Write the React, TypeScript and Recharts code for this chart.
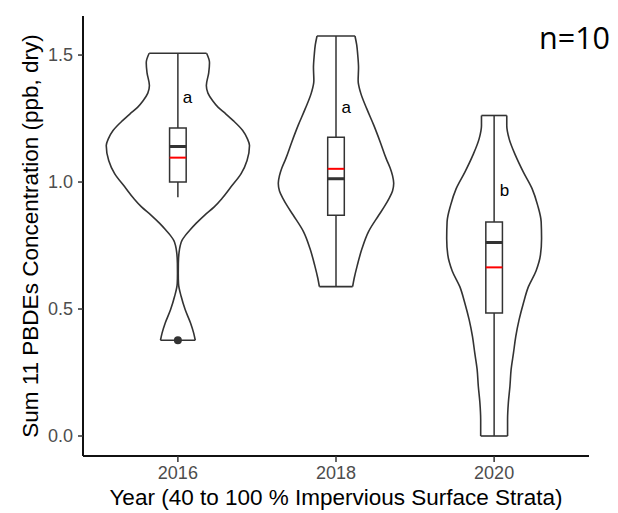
import React from 'react';
import {
  ScatterChart,
  Scatter,
  XAxis,
  YAxis,
  ReferenceArea,
  ReferenceLine,
  ReferenceDot,
  Label,
} from 'recharts';

// ---------- data ----------
const years = [2016, 2018, 2020];

// violin outlines: [value, half-width in years], from bottom to top
const violin2016: [number, number][] = [
  [0.377, 0.22], [0.405, 0.2], [0.445, 0.16], [0.497, 0.093], [0.549, 0.042],
  [0.6, 0.008], [0.64, 0.005], [0.68, 0.006], [0.72, 0.014], [0.75, 0.03],
  [0.77, 0.052], [0.79, 0.095], [0.81, 0.15], [0.837, 0.23], [0.87, 0.34],
  [0.902, 0.46], [0.936, 0.56], [0.98, 0.67], [1.033, 0.8], [1.085, 0.875],
  [1.144, 0.906], [1.17, 0.88], [1.203, 0.82], [1.242, 0.7], [1.27, 0.6],
  [1.294, 0.51], [1.32, 0.44], [1.35, 0.38], [1.38, 0.36], [1.43, 0.39],
  [1.47, 0.4], [1.507, 0.363],
];
const violin2018: [number, number][] = [
  [0.588, 0.21], [0.621, 0.23], [0.673, 0.27], [0.739, 0.33], [0.804, 0.41],
  [0.869, 0.54], [0.905, 0.615], [0.935, 0.67], [0.965, 0.715], [0.995, 0.73],
  [1.025, 0.715], [1.055, 0.685], [1.092, 0.635], [1.157, 0.56], [1.222, 0.48],
  [1.288, 0.39], [1.353, 0.31], [1.4, 0.28], [1.45, 0.285], [1.5, 0.275],
  [1.54, 0.262], [1.575, 0.24],
];
const violin2020: [number, number][] = [
  [0.0, 0.17], [0.065, 0.17], [0.131, 0.18], [0.196, 0.2], [0.262, 0.215],
  [0.327, 0.245], [0.392, 0.274], [0.458, 0.316], [0.523, 0.37], [0.588, 0.434],
  [0.65, 0.53], [0.713, 0.586], [0.778, 0.6], [0.843, 0.595], [0.909, 0.55],
  [0.974, 0.48], [1.039, 0.37], [1.105, 0.27], [1.17, 0.19], [1.222, 0.16],
  [1.262, 0.16],
];
const violins = [violin2016, violin2018, violin2020];

const q1Values = [1.0, 0.869, 0.484];
const medianValues = [1.14, 1.013, 0.762];
const q3Values = [1.213, 1.176, 0.843];
const meanValues = [1.096, 1.052, 0.664];
const whiskerLowValues = [0.94, 0.588, 0.0];
const whiskerHighValues = [1.507, 1.575, 1.262];
const outlierPoints = [{ x: 2016, y: 0.377 }];

const groupLetters = ['a', 'a', 'b'];
const letterX = [2016.12, 2018.13, 2020.13];
const letterY = [1.312, 1.272, 0.945];

const xTicks = [2016, 2018, 2020];
const yTicks = [0, 0.5, 1.0, 1.5];

// ---------- style ----------
const FONT = "'Liberation Sans', Arial, sans-serif";
const INK = '#333333';
const BOX_HALF = 0.105;

export default function App() {
  const sides: { key: string; data: { x: number; y: number }[] }[] = [];
  violins.forEach((prof, i) => {
    const yr = years[i];
    sides.push({ key: `r${i}`, data: prof.map(([v, w]) => ({ x: yr + w, y: v })) });
    sides.push({ key: `l${i}`, data: prof.map(([v, w]) => ({ x: yr - w, y: v })) });
  });

  const letterData = groupLetters.map((t, i) => ({ x: letterX[i], y: letterY[i], label: t }));

  return (
    <div style={{ position: 'absolute', left: 0, top: 0, width: 618, height: 513, background: '#fff' }}>
      <ScatterChart width={618} height={513} margin={{ top: 16, right: 29, bottom: 0, left: 0 }}>
        <XAxis
          type="number"
          dataKey="x"
          domain={[2014.8, 2021.2]}
          allowDataOverflow
          ticks={xTicks}
          interval={0}
          tickSize={6}
          tickMargin={4}
          height={57}
          axisLine={{ stroke: '#111', strokeWidth: 2 }}
          tickLine={{ stroke: INK, strokeWidth: 1.5 }}
          tick={{ fill: '#4d4d4d', fontSize: 18, fontFamily: FONT }}
        >
          <Label
            content={(props: any) => {
              const vb = props.viewBox || { x: 83, y: 456, width: 506, height: 57 };
              return (
                <text
                  x={vb.x + vb.width / 2}
                  y={vb.y + 49}
                  textAnchor="middle"
                  fontSize={22.5}
                  fontFamily={FONT}
                  fill="#000"
                >
                  Year (40 to 100 % Impervious Surface Strata)
                </text>
              );
            }}
          />
        </XAxis>
        <YAxis
          type="number"
          dataKey="y"
          domain={[-0.07875, 1.65375]}
          allowDataOverflow
          ticks={yTicks}
          interval={0}
          width={83}
          tickSize={5}
          tickMargin={5}
          tickFormatter={(v: number) => v.toFixed(1)}
          axisLine={{ stroke: '#111', strokeWidth: 2 }}
          tickLine={{ stroke: INK, strokeWidth: 1.5 }}
          tick={{ fill: '#4d4d4d', fontSize: 18, fontFamily: FONT }}
        >
          <Label
            content={(props: any) => {
              const vb = props.viewBox || { x: 0, y: 16, width: 83, height: 440 };
              const cx = vb.x + 38;
              const cy = vb.y + vb.height / 2;
              return (
                <text
                  x={cx}
                  y={cy}
                  transform={`rotate(-90, ${cx}, ${cy})`}
                  textAnchor="middle"
                  fontSize={22.5}
                  fontFamily={FONT}
                  fill="#000"
                >
                  Sum 11 PBDEs Concentration (ppb, dry)
                </text>
              );
            }}
          />
        </YAxis>

        {/* violin sides */}
        {sides.map((s) => (
          <Scatter
            key={s.key}
            data={s.data}
            fill="none"
            line={{ stroke: INK, strokeWidth: 1.6 }}
            lineJointType="monotoneY"
            shape={() => <g />}
            isAnimationActive={false}
            legendType="none"
          />
        ))}

        {/* violin caps (trimmed ends) */}
        {violins.map((prof, i) => {
          const [v0, w0] = prof[0];
          const [v1, w1] = prof[prof.length - 1];
          const yr = years[i];
          return (
            <React.Fragment key={`cap${i}`}>
              <ReferenceLine
                segment={[{ x: yr - w0, y: v0 }, { x: yr + w0, y: v0 }]}
                stroke={INK}
                strokeWidth={1.6}
                ifOverflow="visible"
              />
              <ReferenceLine
                segment={[{ x: yr - w1, y: v1 }, { x: yr + w1, y: v1 }]}
                stroke={INK}
                strokeWidth={1.6}
                ifOverflow="visible"
              />
            </React.Fragment>
          );
        })}

        {/* whiskers */}
        {years.map((yr, i) => (
          <React.Fragment key={`wh${i}`}>
            <ReferenceLine
              segment={[{ x: yr, y: q3Values[i] }, { x: yr, y: whiskerHighValues[i] }]}
              stroke={INK}
              strokeWidth={1.5}
              ifOverflow="visible"
            />
            <ReferenceLine
              segment={[{ x: yr, y: whiskerLowValues[i] }, { x: yr, y: q1Values[i] }]}
              stroke={INK}
              strokeWidth={1.5}
              ifOverflow="visible"
            />
          </React.Fragment>
        ))}

        {/* boxes */}
        {years.map((yr, i) => (
          <ReferenceArea
            key={`box${i}`}
            x1={yr - BOX_HALF}
            x2={yr + BOX_HALF}
            y1={q1Values[i]}
            y2={q3Values[i]}
            fill="#ffffff"
            fillOpacity={1}
            stroke={INK}
            strokeWidth={1.5}
            ifOverflow="visible"
          />
        ))}

        {/* medians */}
        {years.map((yr, i) => (
          <ReferenceLine
            key={`med${i}`}
            segment={[{ x: yr - BOX_HALF, y: medianValues[i] }, { x: yr + BOX_HALF, y: medianValues[i] }]}
            stroke={INK}
            strokeWidth={3}
            ifOverflow="visible"
          />
        ))}

        {/* means */}
        {years.map((yr, i) => (
          <ReferenceLine
            key={`mean${i}`}
            segment={[{ x: yr - BOX_HALF, y: meanValues[i] }, { x: yr + BOX_HALF, y: meanValues[i] }]}
            stroke="#ff0000"
            strokeWidth={2}
            ifOverflow="visible"
          />
        ))}

        {/* outliers */}
        {outlierPoints.map((p, i) => (
          <ReferenceDot key={`out${i}`} x={p.x} y={p.y} r={4} fill={INK} stroke="none" ifOverflow="visible" />
        ))}

        {/* group letters */}
        <Scatter
          data={letterData}
          fill="#000"
          isAnimationActive={false}
          legendType="none"
          shape={(props: any) => (
            <text
              x={props.cx}
              y={props.cy}
              textAnchor="middle"
              fontSize={17}
              fontFamily={FONT}
              fill="#000"
            >
              {props.payload ? props.payload.label : ''}
            </text>
          )}
        />
      </ScatterChart>
      <svg
        width={618}
        height={513}
        style={{ position: 'absolute', left: 0, top: 0, pointerEvents: 'none' }}
      >
        <text x={539} y={49} fontSize={30.5} fontFamily="'Open Sans', sans-serif" fill="#000">
          n=10
        </text>
      </svg>
    </div>
  );
}
